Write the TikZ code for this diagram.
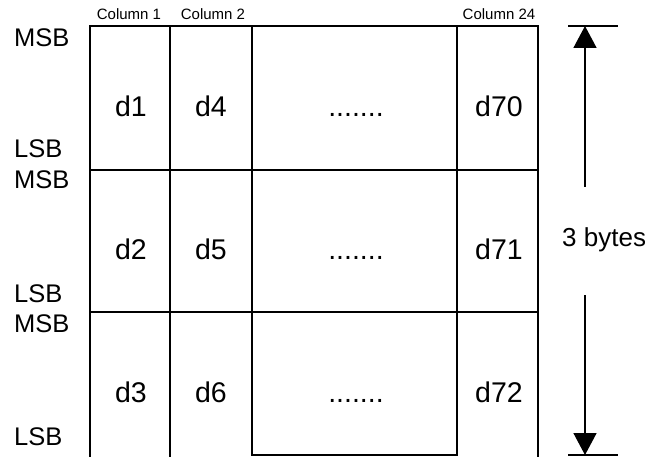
\documentclass[tikz,border=0pt]{standalone}
\usepackage{fontspec}
\setmainfont{Liberation Sans}
\usetikzlibrary{arrows.meta}
\tikzset{
  grid/.style={line width=1.6pt, line cap=rect},
  bitlbl/.style={anchor=base west, inner sep=0pt, font=\fontsize{25.5}{28}\selectfont},
  cell/.style={anchor=base, inner sep=0pt, font=\fontsize{28.5}{32}\selectfont},
  collbl/.style={anchor=base, inner sep=0pt, font=\fontsize{15}{17}\selectfont},
  dimarrow/.style={line width=1.6pt, -{Triangle[width=23pt,length=22pt]}},
  tick/.style={line width=1.4pt}
}
\begin{document}
\begin{tikzpicture}[x=1pt,y=-1pt]
\useasboundingbox (0,0) rectangle (645,457);
\begin{scope}
\clip (0,0) rectangle (645,457);
% grid
\draw[grid] (90,26) -- (538,26);
\draw[grid] (90,170) -- (538,170);
\draw[grid] (90,312) -- (538,312);
\draw[grid] (252,455) -- (457,455);
\draw[grid] (90,26) -- (90,470);
\draw[grid] (170,26) -- (170,470);
\draw[grid] (252,26) -- (252,455);
\draw[grid] (457,26) -- (457,455);
\draw[grid] (538,26) -- (538,470);
\end{scope}
% column labels
\node[collbl] (c1) at (129,20) {Column 1};
\node[collbl] (c2) at (213,20) {Column 2};
\node[collbl] (c24) at (499,20) {Column 24};
% bit labels
\node[bitlbl] (m1) at (14,47) {MSB};
\node[bitlbl] (l1) at (14,158) {LSB};
\node[bitlbl] (m2) at (14,189) {MSB};
\node[bitlbl] (l2) at (14,302) {LSB};
\node[bitlbl] (m3) at (14,332) {MSB};
\node[bitlbl] (l3) at (14,445) {LSB};
% cells
\node[cell] (d1) at (131,117) {d1};
\node[cell] (d4) at (211,117) {d4};
\node[cell] (e1) at (356,117) {.......};
\node[cell] (d70) at (499,117) {d70};
\node[cell] (d2) at (131,259) {d2};
\node[cell] (d5) at (211,259) {d5};
\node[cell] (e2) at (356,259) {.......};
\node[cell] (d71) at (499,259) {d71};
\node[cell] (d3) at (131,402) {d3};
\node[cell] (d6) at (211,402) {d6};
\node[cell] (e3) at (356,402) {.......};
\node[cell] (d72) at (499,402) {d72};
% dimension
\coordinate (tt) at (585,26);
\coordinate (bt) at (585,455);
\coordinate (ua) at (585,187);
\coordinate (la) at (585,295);
\draw[tick] (568,26) -- (618,26);
\draw[tick] (568,455) -- (618,455);
\draw[dimarrow] (ua) -- (tt);
\draw[dimarrow] (la) -- (bt);
\node[anchor=base west, inner sep=0pt, font=\fontsize{26}{30}\selectfont] (by) at (562,247) {3 bytes};
\end{tikzpicture}
\end{document}
